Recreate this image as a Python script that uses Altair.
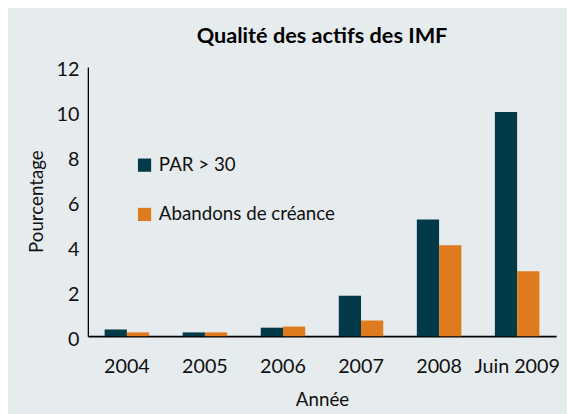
import altair as alt
import pandas as pd

years = ["2004", "2005", "2006", "2007", "2008", "Juin 2009"]
par30 = [0.3, 0.17, 0.38, 1.8, 5.2, 10.0]
abandons = [0.17, 0.17, 0.43, 0.7, 4.05, 2.9]
series = ["PAR > 30", "Abandons de créance"]
colors = ["#023a4a", "#e07a1f"]
y_ticks = [0, 2, 4, 6, 8, 10, 12]

rows = []
for i, yr in enumerate(years):
    rows.append({"annee": yr, "serie": series[0], "valeur": par30[i]})
    rows.append({"annee": yr, "serie": series[1], "valeur": abandons[i]})
df = pd.DataFrame(rows)

FONT = "Lato"

chart = alt.Chart(df).mark_bar().encode(
    x=alt.X(
        "annee:N", sort=years,
        scale=alt.Scale(paddingInner=0.43, paddingOuter=0.215),
        axis=alt.Axis(
            title="Année", labelAngle=0, ticks=False, labelPadding=21,
            labelFontSize=20, labelFont=FONT, labelColor="#111111",
            titleFont=FONT, titleFontSize=19, titleFontWeight="normal", titleColor="#111111",
            titleY=64, titleBaseline="middle",
            domainColor="#000000", domainWidth=1.8,
        ),
    ),
    xOffset=alt.XOffset("serie:N", sort=series),
    y=alt.Y(
        "valeur:Q",
        scale=alt.Scale(domain=[0, 12], nice=False),
        axis=alt.Axis(
            title="Pourcentage", values=y_ticks, grid=False, ticks=False,
            labelPadding=9, labelFontSize=20, labelFont=FONT, labelColor="#111111",
            labelOffset=3,
            titleFont=FONT, titleFontSize=19, titleFontWeight="normal", titleColor="#111111",
            titleX=-52, titleY=136, titleAlign="center", titleBaseline="middle",
            domainColor="#000000", domainWidth=1.3,
        ),
    ),
    color=alt.Color(
        "serie:N", sort=series,
        scale=alt.Scale(domain=series, range=colors),
        legend=alt.Legend(
            title=None, orient="none", legendX=48, legendY=90,
            symbolType="square", symbolSize=180, symbolStrokeWidth=0,
            labelFont=FONT, labelFontSize=19, labelColor="#111111",
            rowPadding=30, labelOffset=5, labelLimit=0,
        ),
    ),
).properties(
    width=475, height=273,
    title=alt.TitleParams(
        "Qualité des actifs des IMF", font=FONT, fontSize=22, fontWeight="bold",
        color="#000000", anchor="middle", offset=12,
    ),
    autosize=alt.AutoSizeParams(type="none"),
    padding={"left": 81, "top": 57, "right": 11, "bottom": 76},
    background="#e6ebee",
).configure_view(stroke=None)

chart.save("out.html", embed_options={"renderer": "svg", "actions": False})
